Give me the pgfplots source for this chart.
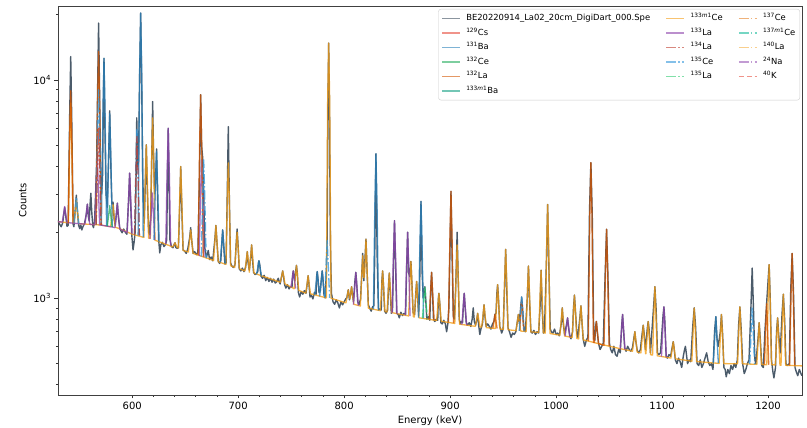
\documentclass[border=0pt]{standalone}
\usepackage{fontspec}
\setmainfont{DejaVu Sans}
\usepackage{pgfplots}
\pgfplotsset{compat=1.18}

\definecolor{cdata}{HTML}{2C3E50}
\definecolor{c129Cs}{HTML}{E74C3C}
\definecolor{c131Ba}{HTML}{2980B9}
\definecolor{c132Ce}{HTML}{27AE60}
\definecolor{c132La}{HTML}{D35400}
\definecolor{c133mBa}{HTML}{16A085}
\definecolor{c133mCe}{HTML}{F39C12}
\definecolor{c133La}{HTML}{8E44AD}
\definecolor{c134La}{HTML}{C0392B}
\definecolor{c135Ce}{HTML}{3498DB}
\definecolor{c135La}{HTML}{2ECC71}
\definecolor{c137Ce}{HTML}{E67E22}
\definecolor{c137mCe}{HTML}{1ABC9C}
\definecolor{c140La}{HTML}{F5B041}
\definecolor{c24Na}{HTML}{9B59B6}
\definecolor{c40K}{HTML}{E74C3C}

\tikzset{
  dashdot/.style={dash pattern=on 9.6pt off 2.4pt on 1.5pt off 2.4pt},
  dashmpl/.style={dash pattern=on 5.5pt off 2.4pt},
}
\pgfplotsset{
  fit/.style={line width=1.3pt, draw opacity=0.78, no marks, forget plot, line join=round},
  sData/.style={line width=1.4pt, color=cdata, draw opacity=0.85, no marks, forget plot, line join=round},
  s132La/.style={fit, color=c132La},
  s133mCe/.style={fit, color=c133mCe},
  s133La/.style={fit, color=c133La},
  s131Ba/.style={fit, color=c131Ba},
  s135Ce/.style={fit, color=c135Ce, dashdot},
  s134La/.style={fit, color=c134La, dashdot},
  s132Ce/.style={fit, color=c132Ce},
  s135La/.style={fit, color=c135La, dashdot},
  lg/.style={line width=1.3pt, draw opacity=0.6},
}

\begin{document}
\begin{tikzpicture}
\path[use as bounding box] (-58pt,-33pt) rectangle (749pt,395pt);
\begin{axis}[
  at={(0pt,0pt)}, anchor=south west,
  scale only axis, width=744pt, height=389pt,
  xmin=530, xmax=1232,
  ymode=log, ymin=359, ymax=21800,
  xtick={600,700,...,1200}, minor x tick num=4,
  ytick={1000,10000}, yticklabels={10\textsuperscript{3},10\textsuperscript{4}},
  minor ytick={400,500,600,700,800,900,2000,3000,4000,5000,6000,7000,8000,9000,20000},
  tick align=outside, tick pos=left,
  major tick length=3.5pt, minor tick length=2pt,
  every tick/.style={black!80, line width=0.6pt},
  axis line style={black!75, line width=0.8pt},
  /pgf/number format/assume math mode=true,
  /pgf/number format/1000 sep={},
  ticklabel style={font=\fontsize{10}{12}\selectfont},
  label style={font=\fontsize{10}{12}\selectfont},
  xlabel={Energy (keV)}, ylabel={Counts},
  xlabel style={yshift=1pt},
  clip=true,
  legend columns=3,
  legend cell align=left,
  legend image code/.code={\draw[#1] (0pt,0pt) -- (18pt,0pt);},
  legend style={at={(1,1)}, xshift=-2pt, yshift=-3pt, anchor=north east,
    draw=black!20, rounded corners=2.5pt, fill=white, fill opacity=0.8, text opacity=1,
    font=\fontsize{8.4}{10}\selectfont, inner xsep=3pt, inner ysep=3pt,
    nodes={inner sep=1.5pt, text height=7pt, text depth=2.4pt},
    row sep=2.1pt,
    /tikz/every odd column/.append style={column sep=4pt},
    /tikz/every even column/.append style={column sep=14pt}},
]

% measured spectrum
\addplot[sData] coordinates {
(528,2300)(530,2250)(531.5,2180)(533,2120)(534.5,2210)(535.3,2400)(536.3,2600)(537.3,2380)(538.5,2130)(539.6,2150)(541,6800)(542,12790)(543,6500)(544.2,2180)(545,2120)(546.3,2550)(547.3,2960)(548.3,2500)(549.5,2150)(550.5,2080)(551.5,2160)(552.5,2050)(553.5,2120)(555,2190)(556.7,2420)(557.7,2690)(558.7,2350)(559.5,2250)(560.3,2700)(561,3020)(561.8,2500)(562.8,2150)(563.5,2100)(564.5,2250)(565.5,3000)(566.5,4300)(567.3,8500)(568.3,18200)(569.2,9000)(570.2,3800)(571,3000)(572,3500)(572.6,6500)(573.4,12560)(574.3,6000)(575.3,3000)(576.5,2600)(577.8,4500)(578.8,7210)(579.8,4200)(580.8,2700)(581.9,2750)(583,2300)(584,2150)(585,2400)(586,2720)(587,2350)(588.2,2100)(589,2050)(590.5,1990)(592,2070)(593.5,2000)(595,1960)(596.6,2800)(597.6,3735)(598.6,2700)(599.6,1950)(600.8,1660)(601.8,1800)(602.8,2000)(603.3,2600)(604.3,6700)(605.2,4000)(606,4200)(607,10000)(608,20230)(609,9500)(610,3500)(611.3,2200)(612.3,3200)(613.3,5030)(614.3,3100)(615.5,2000)(616.5,1950)(617.5,2400)(618.5,4500)(619.3,7950)(620.2,4500)(621.2,3000)(622.1,3500)(623,4820)(623.9,3000)(625,1850)(626,1610)(627,1750)(628.5,1800)(630,1720)(631.5,1760)(632.6,1850)(633.2,3300)(634,6000)(634.8,3300)(635.6,1850)(637,1720)(638.5,1700)(639.6,1760)(640.4,1790)(641.2,1700)(642.5,1690)(643.6,1700)(644.8,2600)(645.8,4000)(646.8,2600)(648,1660)(649.5,1640)(651,1600)(652.5,1680)(654.3,1900)(655.2,2100)(656.1,1850)(657.5,1600)(659,1630)(660.5,1580)(662,1620)(663.5,3600)(664.6,8540)(665.5,5000)(666.5,4400)(667.5,3000)(668.5,1700)(670,1530)(671.8,1650)(673,1500)(674.5,1540)(676,1480)(678,1850)(679,2150)(680,1800)(681.2,1470)(682.5,1440)(683.6,1480)(684.6,1800)(685.4,2050)(686.3,1750)(687.5,1430)(688.6,1450)(689.6,2800)(690.7,6100)(691.7,2800)(692.8,1450)(694,1400)(695.5,1380)(697,1420)(698.2,1800)(699,2070)(699.9,1750)(701,1360)(702.5,1330)(704,1370)(705.5,1320)(707,1380)(707.9,1500)(708.6,1630)(709.4,1450)(710.5,1340)(711.9,1550)(712.7,1750)(713.5,1520)(714.5,1310)(716,1280)(717.5,1300)(718.5,1320)(719,1440)(719.6,1480)(720.4,1420)(721.5,1260)(723,1230)(724.5,1270)(726,1200)(727.5,1240)(729,1190)(730.5,1230)(732,1180)(733.5,1220)(735,1170)(736.5,1190)(737.2,1215)(737.9,1230)(738.6,1190)(739.6,1160)(741.2,1270)(742,1330)(742.8,1260)(743.8,1150)(745,1110)(746.5,1150)(748,1100)(749.5,1130)(750.8,1120)(751.3,1260)(752,1330)(752.8,1240)(753.5,1200)(754.3,1330)(755,1410)(755.8,1300)(756.8,1060)(758,1010)(759.5,1070)(761,1040)(762.5,1080)(764,1050)(765.3,1180)(766,1265)(766.8,1160)(767.8,1010)(769,1030)(770.5,990)(772,1060)(773.5,1040)(774,1250)(774.6,1320)(775.3,1230)(776.3,1060)(777.5,1080)(778.6,1240)(779.3,1330)(780,1230)(781,1030)(782,1000)(783.2,1300)(784,1900)(784.6,7000)(785.4,14730)(786.2,7000)(787,1800)(788,1050)(789.5,960)(791,935)(792.5,980)(794,950)(795.5,900)(797,960)(798.5,930)(800,960)(801.5,990)(802.5,1000)(803.9,1090)(805,980)(806.2,1050)(807,1125)(807.8,1040)(808.8,960)(810.2,1200)(811,1310)(811.8,1180)(812.8,960)(814,930)(815.5,990)(816.5,1250)(817.5,1600)(818.6,1200)(819.6,1500)(820.6,1860)(821.6,1350)(822.8,930)(824,900)(825.5,870)(826.8,910)(828,920)(828.8,1500)(830,4580)(831.2,1500)(832.4,880)(833.5,890)(835,880)(835.6,1200)(836.3,1330)(837.1,1150)(838.2,870)(839.5,850)(841,880)(841.9,1150)(842.6,1300)(843.4,1100)(844.5,850)(845.6,870)(846.6,1500)(847.5,2260)(848.5,1450)(849.6,850)(851,840)(852,810)(853.5,860)(855,830)(856.5,850)(858,840)(859,1400)(859.9,2000)(860.9,1300)(862,1250)(863,1470)(864,1150)(865,860)(866.5,840)(867.6,1050)(868.4,1190)(869.2,1030)(870.3,830)(871.2,1100)(872.5,2770)(873.6,1300)(874.6,1000)(875.4,1050)(876.2,1125)(877,980)(878,800)(879.5,820)(880.8,790)(881.7,1100)(882.5,1310)(883.3,1080)(884.3,800)(885.5,780)(887,800)(888.3,790)(888.8,980)(889.4,1050)(890.2,950)(891.3,770)(892.5,760)(894,790)(895.5,760)(896.7,700)(897.8,760)(898.8,900)(899.9,1700)(900.8,3080)(901.8,1600)(903,820)(904,800)(905.2,1100)(905.8,1400)(906.6,2000)(907.5,1300)(908.6,800)(909.5,760)(910.5,780)(911.7,770)(912.6,950)(913.3,1050)(914.1,920)(915.2,770)(916.5,750)(918,770)(919.5,740)(920.8,800)(921.8,900)(922.8,780)(924,750)(925.2,800)(926,850)(926.8,760)(928,680)(929,720)(930.5,760)(931.3,850)(932,930)(932.8,830)(934,740)(935.5,760)(937,740)(938.5,720)(940,760)(941.3,780)(942.3,840)(943.3,850)(944.1,1050)(944.8,1150)(945.6,1000)(946.8,740)(948,710)(948.6,690)(950,720)(951.4,1150)(952.4,1670)(953.4,1100)(954.6,730)(956,700)(957.5,660)(959,690)(960.5,680)(962,700)(963.4,780)(964.4,840)(965.4,760)(966.5,900)(967.5,1010)(968.5,880)(969.6,720)(971,700)(972.8,1000)(973.9,1400)(975,950)(976.2,700)(977.5,690)(979,710)(980.5,680)(982,700)(983.5,690)(984.8,900)(985.8,1340)(986.8,900)(988,690)(989,700)(990.9,1500)(992,2680)(993.1,1450)(994.4,720)(995.5,700)(997,690)(998.5,720)(1000,680)(1001.5,690)(1003,670)(1004.8,760)(1005.8,900)(1006.8,760)(1008,680)(1009.9,760)(1010.8,810)(1011.6,740)(1012.8,670)(1014,650)(1015.5,700)(1016.4,900)(1017.3,1030)(1018.2,880)(1019.5,690)(1020.5,660)(1022.5,820)(1023.4,920)(1024.3,790)(1025.5,650)(1027,600)(1028.5,640)(1030,660)(1031.5,2500)(1032.8,4170)(1034.1,2400)(1035.5,650)(1036.5,640)(1037.3,740)(1038,780)(1038.8,700)(1040,620)(1041.5,580)(1043,600)(1044.5,620)(1046.3,1300)(1047.6,2065)(1048.9,1250)(1050.3,620)(1051.5,580)(1053,560)(1054.5,600)(1056,550)(1057.5,540)(1059,580)(1060.5,560)(1061.9,750)(1062.7,840)(1063.5,730)(1064.7,590)(1066,570)(1067.5,600)(1069,580)(1070.5,570)(1072,590)(1073.5,660)(1074.3,700)(1075.1,640)(1076.5,575)(1078,560)(1079.5,580)(1081.4,700)(1082.2,750)(1083,690)(1084.2,580)(1086.1,730)(1086.9,780)(1087.7,720)(1089,560)(1091.9,900)(1093.2,1125)(1094.4,880)(1095.6,560)(1097,550)(1098.5,560)(1100.9,830)(1101.7,910)(1102.5,800)(1103.8,540)(1105,530)(1106.5,550)(1108,540)(1109.7,600)(1110.5,630)(1111.3,590)(1112.5,520)(1114,500)(1115.5,530)(1117,510)(1118.5,480)(1120,540)(1121.2,580)(1122,600)(1122.8,560)(1124,500)(1125.5,520)(1127,510)(1129,750)(1130.3,900)(1131.6,740)(1133,500)(1134.5,490)(1136,520)(1137.5,480)(1139,500)(1140.5,530)(1142,560)(1143.5,510)(1145,490)(1146.5,500)(1148,470)(1149.5,700)(1150.7,820)(1151.8,650)(1153,600)(1154.9,700)(1156,840)(1157.1,680)(1158.3,480)(1159.5,470)(1160.5,435)(1162,470)(1163.5,450)(1165,490)(1166.5,470)(1168,500)(1169.5,480)(1171,520)(1172.2,750)(1173.4,910)(1174.6,720)(1176,500)(1177.5,450)(1179,470)(1180.5,500)(1182,520)(1183.8,900)(1185,1370)(1186.2,900)(1187.5,520)(1188.5,500)(1190.5,650)(1191.6,770)(1192.7,640)(1194,490)(1195.5,480)(1197,700)(1198.6,940)(1200,1200)(1201,1420)(1202,1000)(1203.2,520)(1204.5,460)(1205.5,430)(1207,480)(1208,700)(1209,810)(1210,680)(1211.5,560)(1213.2,850)(1214.4,1040)(1215.6,800)(1216.8,500)(1218,490)(1220,500)(1221.4,1100)(1222.7,1600)(1224,1050)(1225.4,480)(1226.5,460)(1228,440)(1229.5,470)(1231,450)(1232,440)
};

% 133mCe fit: continuum plus its lines
\addplot[s133mCe] coordinates {
(530,2240)(539.8,2210)(541,5000)(542,7830)(543,5000)(544.2,2205)(545.1,2200)(546.3,2500)(547.3,2800)(548.3,2500)(549.5,2190)(560,2175)(570,2160)(579.7,2120)(580.9,2400)(581.9,2680)(582.9,2400)(584.1,2110)(590,2060)(600,1960)(610,1900)(611.1,1895)(612.3,3450)(613.3,5030)(614.3,3450)(615.5,1880)(617.1,1875)(618.3,4250)(619.3,6690)(620.3,4250)(621.5,1840)(630,1775)(638.2,1715)(639.4,1750)(640.4,1790)(641.4,1750)(642.6,1700)(643.6,1695)(644.8,2850)(645.8,4000)(646.8,2850)(648,1650)(653,1625)(654.2,1840)(655.2,2050)(656.2,1840)(657.4,1600)(670,1525)(676.8,1485)(678,1810)(679,2150)(680,1810)(681.2,1465)(688.5,1425)(689.7,2780)(690.7,4160)(691.7,2780)(692.9,1405)(696.8,1380)(698,1690)(699,2000)(700,1690)(701.2,1360)(706.4,1330)(707.6,1480)(708.6,1630)(709.6,1480)(710.5,1312)(711.7,1530)(712.7,1750)(713.7,1530)(714.9,1300)(730,1225)(739.8,1180)(741,1255)(742,1330)(743,1255)(744.2,1160)(752.8,1102)(754,1255)(755,1410)(756,1250)(757.2,1083)(763.8,1052)(765,1155)(766,1265)(767,1155)(768.2,1045)(780,1010)(783.2,1002)(784.4,7800)(785.4,14730)(786.4,7800)(787.6,997)(800,955)(801.7,950)(802.9,1020)(803.9,1090)(804.9,1020)(805.5,990)(806,1030)(807,1125)(808,1030)(809.2,935)(815.3,918)(816.5,1240)(817.5,1560)(818.5,1240)(819.1,1250)(819.6,1380)(820.6,1860)(821.6,1380)(822.8,898)(834.1,874)(835.3,1100)(836.3,1330)(837.3,1100)(838.5,867)(840.4,862)(841.6,1080)(842.6,1300)(843.6,1080)(844.8,857)(860.8,827)(862,1150)(863,1470)(864,1150)(865.2,820)(866.2,818)(867.4,1000)(868.4,1190)(869.4,1000)(870.6,811)(887.2,788)(888.4,920)(889.4,1050)(890.4,920)(891.6,782)(904.4,764)(905.6,1260)(906.6,1750)(907.6,1260)(908.8,758)(923.8,741)(925,795)(926,850)(927,795)(928.2,737)(929.8,735)(931,830)(932,930)(933,830)(934.2,731)(942.6,724)(943.8,935)(944.8,1150)(945.8,935)(947,720)(950.2,718)(951.4,1190)(952.4,1670)(953.4,1190)(954.6,715)(962.2,708)(963.4,775)(964.4,840)(965.4,775)(966.6,705)(971.7,702)(972.9,1050)(973.9,1400)(974.9,1050)(976.1,699)(983.6,695)(984.8,1015)(985.8,1340)(986.8,1015)(988,692)(989.8,690)(991,1685)(992,2680)(993,1685)(994.2,687)(1003.6,675)(1004.8,790)(1005.8,900)(1006.8,790)(1008,669)(1015.1,659)(1016.3,845)(1017.3,1030)(1018.3,845)(1019.5,652)(1021.2,649)(1022.4,785)(1023.4,920)(1024.4,785)(1025.6,642)(1030,635)(1040,617)(1050,601)(1060,586)(1072.1,570)(1073.3,635)(1074.3,700)(1075.3,635)(1076.5,564)(1080,560)(1081.2,655)(1082.2,750)(1083.2,655)(1084.4,555)(1084.7,555)(1085.9,667)(1086.9,780)(1087.9,667)(1089.1,549)(1091,547)(1092.2,835)(1093.2,1125)(1094.2,835)(1095.4,543)(1108.3,530)(1109.5,580)(1110.5,630)(1111.5,580)(1112.7,526)(1128.1,513)(1129.3,705)(1130.3,900)(1131.3,705)(1132.5,511)(1153.8,501)(1155,670)(1156,840)(1157,670)(1158.2,500)(1171.2,499)(1172.4,705)(1173.4,910)(1174.4,705)(1175.6,499)(1189.4,496)(1190.6,633)(1191.6,770)(1192.6,633)(1193.8,495)(1198.8,494)(1200,957)(1201,1420)(1202,957)(1203.2,494)(1206.8,493)(1208,650)(1209,810)(1210,650)(1211.2,492)(1212.2,491)(1213.4,765)(1214.4,1040)(1215.4,765)(1216.6,491)(1232,488)
};

% 133La fit
\addplot[s133La] coordinates {(530,2240)(534,2225)(535.3,2420)(536.3,2625)(537.3,2420)(538.6,2215)(550,2190)(555.4,2180)(556.7,2430)(557.7,2690)(558.7,2430)(560,2175)(564.7,2168)(566,3300)(567,4450)(568,3300)(569.3,2162)(580,2120)(583.7,2100)(585,2400)(586,2720)(587,2400)(588.3,2070)(595.3,1995)(596.6,2850)(597.6,3735)(598.6,2850)(599.9,1960)};
\addplot[s133La] coordinates {(616.7,1870)(618,2450)(619,3030)(620,2450)(621.3,1840)};
\addplot[s133La] coordinates {(631.7,1765)(633,3900)(634,6000)(635,3900)(636.3,1735)};
\addplot[s133La] coordinates {(663.2,1560)(664.5,2950)(665.5,4300)(666.5,2950)(667.8,1540)};
\addplot[s133La] coordinates {(749.7,1116)(751,1220)(752,1330)(753,1220)(754.3,1105)};
\addplot[s133La] coordinates {(808.7,933)(810,1120)(811,1310)(812,1120)(813.3,922)};
\addplot[s133La] coordinates {(845.2,853)(846.5,1550)(847.5,2260)(848.5,1550)(849.8,845)};
\addplot[s133La] coordinates {(857.6,832)(858.9,1415)(859.9,2000)(860.9,1415)(862.2,825)};
\addplot[s133La] coordinates {(911,755)(912.3,900)(913.3,1050)(914.3,900)(915.6,750)};
\addplot[s133La] coordinates {(1008.5,668)(1009.8,740)(1010.8,810)(1011.8,740)(1013.1,662)};
\addplot[s133La] coordinates {(1060.4,585)(1061.7,710)(1062.7,840)(1063.7,710)(1065,580)};
\addplot[s133La] coordinates {(1099.4,538)(1100.7,725)(1101.7,910)(1102.7,725)(1104,535)};

% 131Ba fit
\addplot[s131Ba] coordinates {(571,2150)(572.4,7300)(573.4,12560)(574.4,7300)(575.8,2140)};
\addplot[s131Ba] coordinates {(576.4,2135)(577.8,4550)(578.8,7000)(579.8,4550)(581.2,2115)};
\addplot[s131Ba] coordinates {(605.6,1935)(607,11000)(608,20230)(609,11000)(610.4,1898)};
\addplot[s131Ba] coordinates {(620.6,1845)(622,3270)(623,4700)(624,3270)(625.4,1810)};
\addplot[s131Ba] coordinates {(683,1455)(684.4,1750)(685.4,2050)(686.4,1750)(687.8,1435)};
\addplot[s131Ba] coordinates {(717.2,1280)(718.6,1380)(719.6,1480)(720.6,1380)(722,1262)};
\addplot[s131Ba] coordinates {(772.2,1033)(773.6,1175)(774.6,1320)(775.6,1175)(777,1020)(778.3,1175)(779.3,1330)(780.3,1170)(781.7,1005)};
\addplot[s131Ba] coordinates {(827.6,887)(829,2730)(830,4580)(831,2730)(832.4,878)};
\addplot[s131Ba] coordinates {(870.1,812)(871.5,1790)(872.5,2770)(873.5,1790)(874.9,806)};
\addplot[s131Ba] coordinates {(1148.3,503)(1149.7,660)(1150.7,820)(1151.7,660)(1153.1,502)};

% 132La fit
\addplot[s132La] coordinates {(539.6,2205)(541,5500)(542,8900)(543,5500)(544.4,2200)};
\addplot[s132La] coordinates {(565.9,2170)(567.3,7800)(568.3,13480)(569.3,7800)(570.7,2160)};
\addplot[s132La] coordinates {(662.2,1570)(663.6,5000)(664.6,8540)(665.6,5000)(667,1545)};
\addplot[s132La] coordinates {(880.1,798)(881.5,1050)(882.5,1310)(883.5,1050)(884.9,792)};
\addplot[s132La] coordinates {(898.4,772)(899.8,1900)(900.8,3080)(901.8,1900)(903.2,766)};
\addplot[s132La] coordinates {(940.3,726)(941.3,780)(942.3,840)(943.3,780)(944.3,724)};
\addplot[s132La] coordinates {(965.5,706)(966.5,820)(967.5,950)(968.5,820)(969.5,703)};
\addplot[s132La] coordinates {(1030.4,634)(1031.8,2400)(1032.8,4170)(1033.8,2400)(1035.2,627)(1036,624)(1037,700)(1038,780)(1039,700)(1040,617)(1045.2,607)(1046.6,1330)(1047.6,2065)(1048.6,1330)(1050,601)};
\addplot[s132La] coordinates {(1196.6,495)(1197.6,700)(1198.6,940)(1199.6,700)(1200.6,494)};
\addplot[s132La] coordinates {(1220.3,490)(1221.7,1050)(1222.7,1600)(1223.7,1050)(1225.1,489)};

% 135Ce fit
\addplot[s135Ce] coordinates {(545,2200)(546.3,2550)(547.3,2900)(548.3,2550)(549.6,2190)};
\addplot[s135Ce] coordinates {(566,2168)(567.3,5600)(568.3,9000)(569.3,5600)(570.6,2160)};
\addplot[s135Ce] coordinates {(602.2,1945)(603.5,4000)(604.5,6000)(605.5,4000)(606.8,1930)};
\addplot[s135Ce] coordinates {(665.2,1548)(666.5,2900)(667.5,4300)(668.5,2900)(669.8,1528)};
\addplot[s135Ce] coordinates {(781.7,1008)(783,1420)(784,1845)(785,1420)(786.3,1000)};
\addplot[s135Ce] coordinates {(965.2,707)(966.5,860)(967.5,1010)(968.5,860)(969.8,703)};
\addplot[s135Ce] coordinates {(1182.7,497)(1184,700)(1185,900)(1186,700)(1187.3,496)};

% 134La fit
\addplot[s134La] coordinates {(566,2168)(567.3,4000)(568.3,6000)(569.3,4000)(570.6,2160)};
\addplot[s134La] coordinates {(602.2,1945)(603.5,3700)(604.5,5500)(605.5,3700)(606.8,1930)};

% 132Ce and 135La fits
\addplot[s132Ce] coordinates {(576.5,2135)(577.8,2390)(578.8,2650)(579.8,2390)(581.1,2115)};
\addplot[s135La] coordinates {(873.9,806)(875.2,965)(876.2,1125)(877.2,965)(878.5,797)};

% legend, row by row
\addlegendimage{line width=1.3pt, color=cdata, draw opacity=0.55}
\addlegendentry{BE20220914\_La02\_20cm\_DigiDart\_000.Spe}
\addlegendimage{lg, color=c133mCe}
\addlegendentry{\textsuperscript{133\textit{m}1}Ce}
\addlegendimage{lg, color=c137Ce, dashdot}
\addlegendentry{\textsuperscript{137}Ce}
\addlegendimage{lg, color=c129Cs}
\addlegendentry{\textsuperscript{129}Cs}
\addlegendimage{lg, color=c133La}
\addlegendentry{\textsuperscript{133}La}
\addlegendimage{lg, color=c137mCe, dashdot}
\addlegendentry{\textsuperscript{137\textit{m}1}Ce}
\addlegendimage{lg, color=c131Ba}
\addlegendentry{\textsuperscript{131}Ba}
\addlegendimage{lg, color=c134La, dashdot}
\addlegendentry{\textsuperscript{134}La}
\addlegendimage{lg, color=c140La, dashdot}
\addlegendentry{\textsuperscript{140}La}
\addlegendimage{lg, color=c132Ce}
\addlegendentry{\textsuperscript{132}Ce}
\addlegendimage{lg, color=c135Ce, dashdot}
\addlegendentry{\textsuperscript{135}Ce}
\addlegendimage{lg, color=c24Na, dashdot}
\addlegendentry{\textsuperscript{24}Na}
\addlegendimage{lg, color=c132La}
\addlegendentry{\textsuperscript{132}La}
\addlegendimage{lg, color=c135La, dashdot}
\addlegendentry{\textsuperscript{135}La}
\addlegendimage{lg, color=c40K, dashmpl}
\addlegendentry{\textsuperscript{40}K}
\addlegendimage{lg, color=c133mBa}
\addlegendentry{\textsuperscript{133\textit{m}1}Ba}
\end{axis}
\end{tikzpicture}
\end{document}
